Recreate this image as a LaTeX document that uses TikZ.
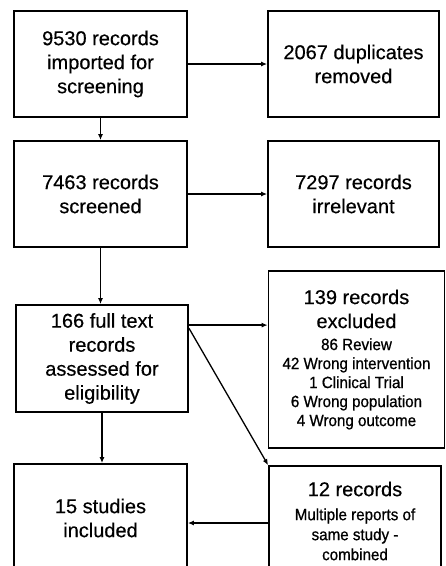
\documentclass[tikz,border=0pt]{standalone}
\usepackage{fontspec}
\setmainfont{Liberation Sans}[FakeBold=0.4]
\newfontfamily\narrowfont{Liberation Sans}[FakeStretch=0.93, FakeBold=0.8]
\usepackage{tikz}
\usetikzlibrary{
  arrows.meta,   % Latex arrow tips
  calc           % anchor shifts
}
\newcommand{\bigtxt}{\fontsize{20}{24}\selectfont}
\newcommand{\smalltxt}{\narrowfont\fontsize{16.3}{19}\selectfont}
\tikzset{
  stage box/.style={
    draw=black,
    line width=1.8pt,
    align=center,
    inner sep=0pt,
    font=\bigtxt
  },
  flow/.style={
    -{Latex[length=6pt,width=5pt]},
    line width=1.3pt
  }
}

\begin{document}
\begin{tikzpicture}[x=1pt, y=-1pt]
    \clip (0,0) rectangle (446,566);
    \useasboundingbox (0,0) rectangle (446,566);

    % --- left column: main flow ---
    \node[stage box, minimum width=173pt, minimum height=106pt] (imported) at (100.5, 64)
      {9530 records\\imported for\\screening};
    \node[stage box, minimum width=173pt, minimum height=106pt] (screened) at (100.5, 194)
      {7463 records\\screened};
    \node[stage box, minimum width=172pt, minimum height=107pt] (fulltext) at (102, 358.5)
      {166 full text\\records\\assessed for\\eligibility};
    \node[stage box, minimum width=173pt, minimum height=108pt] (included) at (100.5, 518)
      {15 studies\\included};

    % --- right column: removed / excluded ---
    \node[stage box, minimum width=171pt, minimum height=106pt] (duplicates) at (353.5, 64)
      {2067 duplicates\\removed};
    \node[stage box, minimum width=171pt, minimum height=106pt] (irrelevant) at (353.5, 194)
      {7297 records\\irrelevant};
    \node[stage box, minimum width=176pt, minimum height=177pt] (excluded) at (356.5, 359.5)
      {139 records\\excluded\\[-2pt]\smalltxt 86 Review\\[-5pt]\smalltxt 42 Wrong intervention\\[-5pt]
       \smalltxt 1 Clinical Trial\\[-5pt]\smalltxt 6 Wrong population\\[-5pt]\smalltxt 4 Wrong outcome};
    \node[stage box, minimum width=172pt, minimum height=110pt] (combined) at (355, 521)
      {12 records\\[0pt]\smalltxt Multiple reports of\\[-4pt]\smalltxt same study -\\[-4pt]\smalltxt combined};

    % --- connectors ---
    \draw[flow] (imported.east) -- (duplicates.west);
    \draw[flow] (imported.south) -- (imported.south |- screened.north);
    \draw[flow] (screened.east) -- (irrelevant.west);
    \draw[flow] (screened.south) -- (screened.south |- fulltext.north);
    \draw[flow] ([yshift=-21pt]fulltext.north east) -- ([yshift=-21pt]fulltext.north east -| excluded.west);
    \draw[flow] ([yshift=-24pt]fulltext.north east) -- (combined.north west);
    \draw[flow] (fulltext.south) -- (fulltext.south |- included.north);
    \draw[flow] ([yshift=-2pt]combined.west) -- ([yshift=-2pt]combined.west -| included.east);

  \end{tikzpicture}
\end{document}
